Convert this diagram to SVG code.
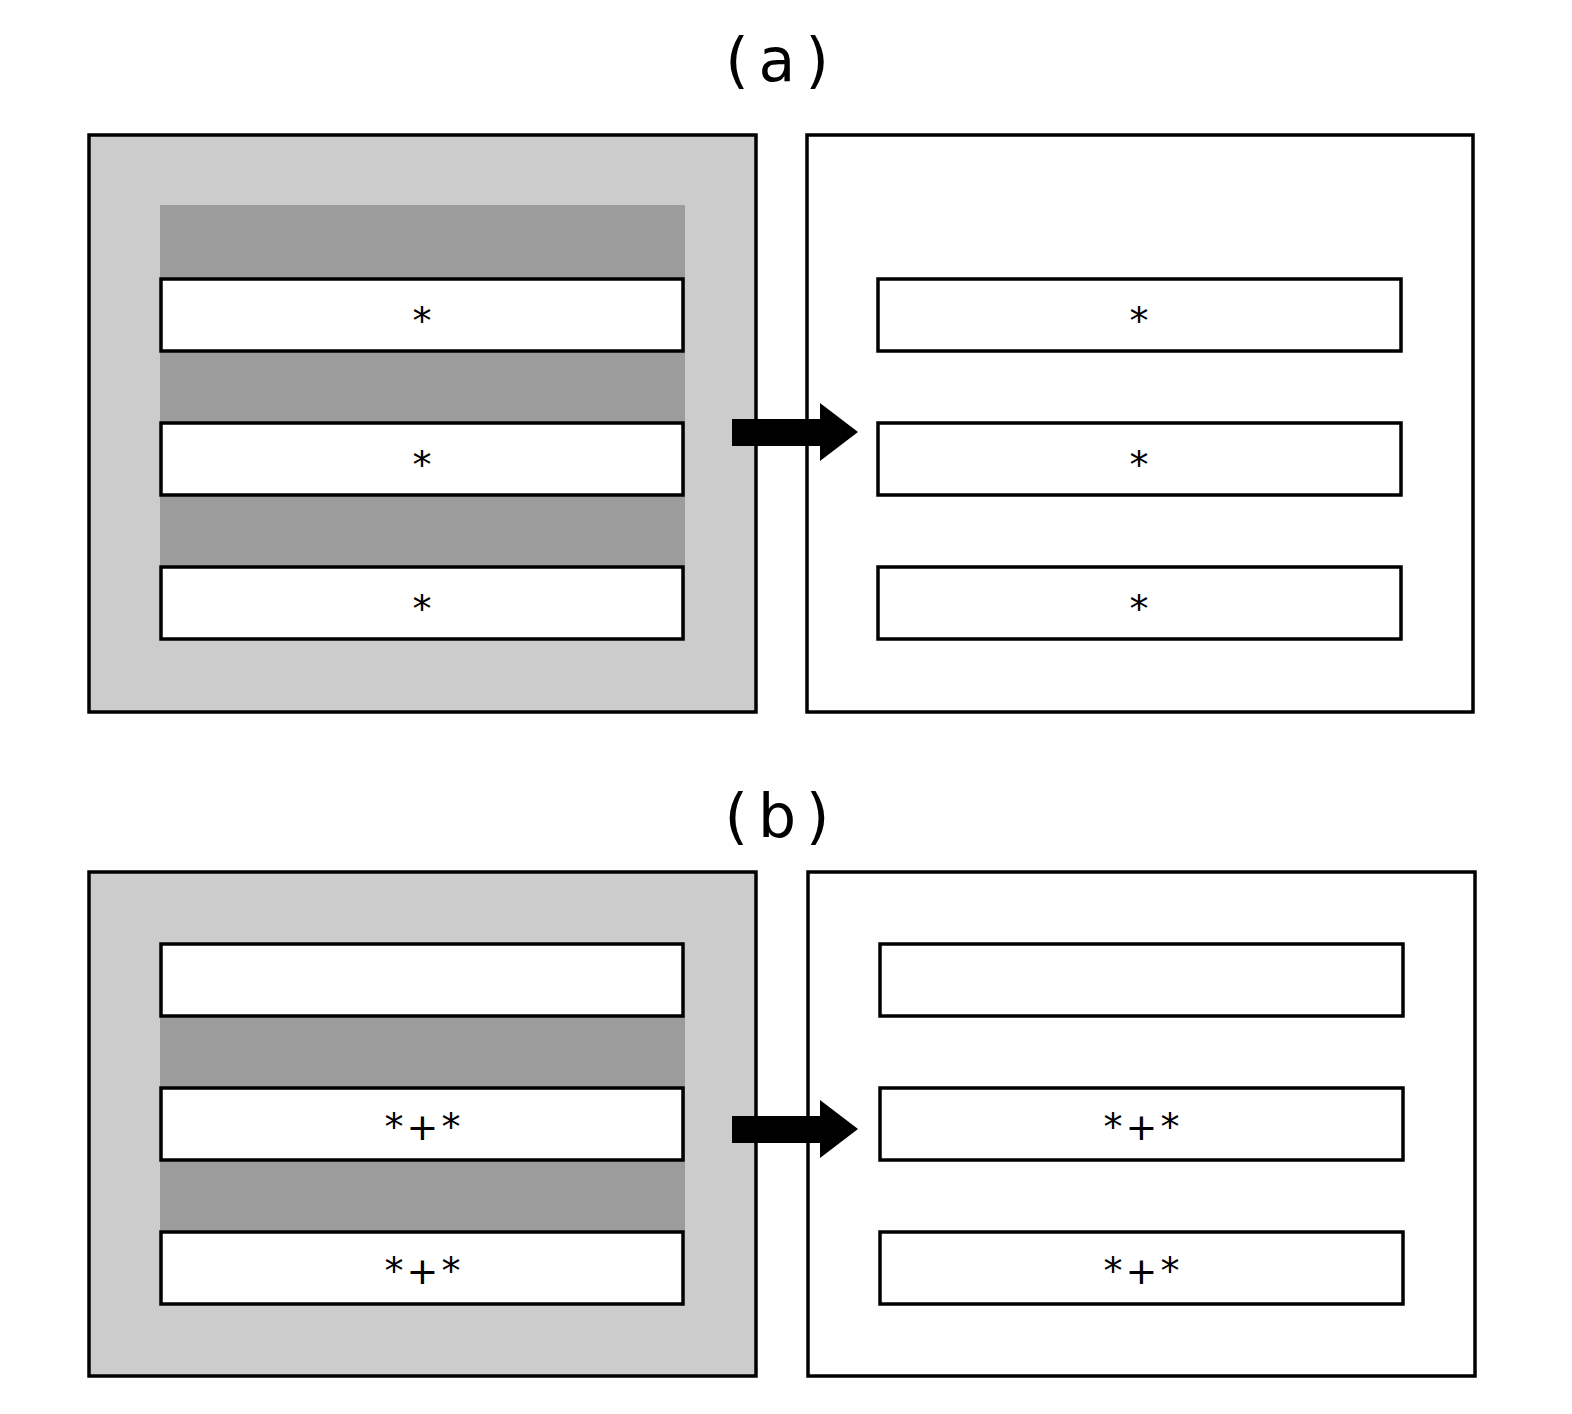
<svg xmlns="http://www.w3.org/2000/svg" width="1572" height="1414" viewBox="0 0 1572 1414">
<style>
.panel{stroke:#000;stroke-width:3.5}
.row{fill:#fff;stroke:#000;stroke-width:3.5}
.dark{fill:#9c9c9c}
.lbl{font-family:"DejaVu Sans",sans-serif;font-size:60px;text-anchor:middle;letter-spacing:10px}
.st{font-family:"DejaVu Sans",sans-serif;font-size:38px;text-anchor:middle}
.sp{letter-spacing:3px}
</style>
<rect width="1572" height="1414" fill="#fff"/>
<text class="lbl" x="782" y="81">(a)</text>
<text class="lbl" x="782" y="837">(b)</text>
<g id="a-left">
<rect class="panel" x="89" y="135" width="667" height="577" fill="#cccccc"/>
<rect class="dark" x="160" y="205" width="525" height="435"/>
<rect class="row" x="161" y="279" width="522" height="72"/>
<rect class="row" x="161" y="423" width="522" height="72"/>
<rect class="row" x="161" y="567" width="522" height="72"/>
<text class="st" x="422" y="334">*</text>
<text class="st" x="422" y="478">*</text>
<text class="st" x="422" y="622">*</text>
</g>
<g id="a-right">
<rect class="panel" x="807" y="135" width="666" height="577" fill="#fff"/>
<rect class="row" x="878" y="279" width="523" height="72"/>
<rect class="row" x="878" y="423" width="523" height="72"/>
<rect class="row" x="878" y="567" width="523" height="72"/>
<text class="st" x="1139" y="334">*</text>
<text class="st" x="1139" y="478">*</text>
<text class="st" x="1139" y="622">*</text>
</g>
<g id="b-left">
<rect class="panel" x="89" y="872" width="667" height="504" fill="#cccccc"/>
<rect class="dark" x="160" y="1016" width="525" height="216"/>
<rect class="row" x="161" y="944" width="522" height="72"/>
<rect class="row" x="161" y="1088" width="522" height="72"/>
<rect class="row" x="161" y="1232" width="522" height="72"/>
<text class="st sp" x="424" y="1140">*+*</text>
<text class="st sp" x="424" y="1284">*+*</text>
</g>
<g id="b-right">
<rect class="panel" x="808" y="872" width="667" height="504" fill="#fff"/>
<rect class="row" x="880" y="944" width="523" height="72"/>
<rect class="row" x="880" y="1088" width="523" height="72"/>
<rect class="row" x="880" y="1232" width="523" height="72"/>
<text class="st sp" x="1143" y="1140">*+*</text>
<text class="st sp" x="1143" y="1284">*+*</text>
</g>
<g id="connectors">
<polygon points="732,419 820,419 820,403 858,432 820,461 820,446 732,446" fill="#000"/>
<polygon points="732,1116 820,1116 820,1100 858,1129 820,1158 820,1143 732,1143" fill="#000"/>
</g>
</svg>
